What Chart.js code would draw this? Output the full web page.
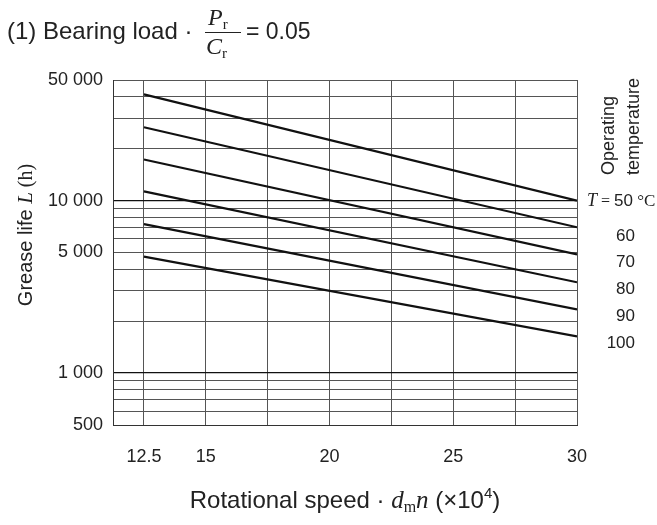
<!DOCTYPE html>
<html>
<head>
<meta charset="utf-8">
<script src="https://cdn.jsdelivr.net/npm/chart.js@4.4.1/dist/chart.umd.min.js"></script>
<style>
  html, body { margin: 0; padding: 0; background: #ffffff; }
  #wrap { width: 657px; height: 525px; }
</style>
</head>
<body>
<div id="wrap"><canvas id="c" width="657" height="525"></canvas></div>
<script>
// ---- data ----
const speedEnds = [12.5, 30];                 // d_m n (x10^4)
const temperatures = ['50', '60', '70', '80', '90', '100'];
const lifeT50  = [41300, 10000];
const lifeT60  = [26600, 7000];
const lifeT70  = [17300, 4880];
const lifeT80  = [11300, 3360];
const lifeT90  = [7300, 2340];
const lifeT100 = [4730, 1630];
const xTickValues = [12.5, 15, 17.5, 20, 22.5, 25, 27.5, 30];
const xTickLabels = ['12.5', '15', '', '20', '', '25', '', '30'];
const yTickValues = [500, 600, 700, 800, 900, 1000, 2000, 3000, 4000, 5000,
                     6000, 7000, 8000, 9000, 10000, 20000, 30000, 40000, 50000];
const yTickLabelValues = [500, 1000, 5000, 10000, 50000];
const yTickLabelTexts  = ['500', '1 000', '5 000', '10 000', '50 000'];

const lifeSeries = [lifeT50, lifeT60, lifeT70, lifeT80, lifeT90, lifeT100];

const SANS = '"Liberation Sans", Arial, sans-serif';
const SERIF = '"Liberation Serif", "Times New Roman", serif';

const datasets = lifeSeries.map((vals, i) => ({
  label: 'T = ' + temperatures[i] + ' °C',
  data: speedEnds.map((s, j) => ({ x: s, y: vals[j] })),
  borderColor: '#111111',
  borderWidth: 2.2,
  pointRadius: 0,
  fill: false,
  tension: 0
}));

function drawSegments(ctx, segs, x, y) {
  let cx = x;
  segs.forEach(s => {
    ctx.font = s.font;
    ctx.fillText(s.t, cx, y + (s.dy || 0));
    cx += ctx.measureText(s.t).width + (s.gap || 0);
  });
  return cx;
}
function segWidth(ctx, segs) {
  let w = 0;
  segs.forEach(s => { ctx.font = s.font; w += ctx.measureText(s.t).width + (s.gap || 0); });
  return w;
}

const textPlugin = {
  id: 'texts',
  afterDraw(chart) {
    const ctx = chart.ctx;
    const area = chart.chartArea;
    const ys = chart.scales.y;
    ctx.save();
    ctx.fillStyle = '#222222';
    ctx.textBaseline = 'alphabetic';
    ctx.textAlign = 'left';

    // ---- title with fraction ----
    ctx.font = '24px ' + SANS;
    ctx.fillText('(1) Bearing load \u00B7', 7, 39);
    drawSegments(ctx, [
      { t: 'P', font: 'italic 24px ' + SERIF },
      { t: 'r', font: '15px ' + SERIF, dy: 4 }
    ], 208, 25);
    ctx.strokeStyle = '#222222';
    ctx.lineWidth = 1.2;
    ctx.beginPath();
    ctx.moveTo(205, 32.5);
    ctx.lineTo(241, 32.5);
    ctx.stroke();
    drawSegments(ctx, [
      { t: 'C', font: 'italic 24px ' + SERIF },
      { t: 'r', font: '15px ' + SERIF, dy: 4 }
    ], 206, 54);
    ctx.font = '23px ' + SANS;
    ctx.fillText('= 0.05', 246, 39);

    // ---- x axis title ----
    const xt = [
      { t: 'Rotational speed \u00B7 ', font: '24px ' + SANS },
      { t: 'd', font: 'italic 25px ' + SERIF },
      { t: 'm', font: '16px ' + SERIF, dy: 4 },
      { t: 'n', font: 'italic 25px ' + SERIF },
      { t: ' (\u00D710', font: '24px ' + SANS },
      { t: '4', font: '15px ' + SANS, dy: -10 },
      { t: ')', font: '24px ' + SANS }
    ];
    const xw = segWidth(ctx, xt);
    drawSegments(ctx, xt, (area.left + area.right) / 2 - xw / 2, 508);

    // ---- y axis title (rotated) ----
    const yt = [
      { t: 'Grease life ', font: '20px ' + SANS },
      { t: 'L', font: 'italic 21px ' + SERIF },
      { t: ' (h)', font: '20px ' + SERIF }
    ];
    const yw = segWidth(ctx, yt);
    ctx.save();
    ctx.translate(32, 235);
    ctx.rotate(-Math.PI / 2);
    drawSegments(ctx, yt, -yw / 2, 0);
    ctx.restore();

    // ---- right side legend text ----
    ctx.save();
    ctx.font = '18px ' + SANS;
    ctx.translate(614, 175);
    ctx.rotate(-Math.PI / 2);
    ctx.fillText('Operating', 0, 0);
    ctx.restore();
    ctx.save();
    ctx.font = '18px ' + SANS;
    ctx.translate(639, 175);
    ctx.rotate(-Math.PI / 2);
    ctx.fillText('temperature', 0, 0);
    ctx.restore();

    const y50 = ys.getPixelForValue(lifeT50[1]);
    ctx.textBaseline = 'middle';
    drawSegments(ctx, [
      { t: 'T', font: 'italic 18px ' + SERIF },
      { t: ' = ', font: '16px ' + SERIF },
      { t: '50', font: '17px ' + SANS },
      { t: ' \u00B0C', font: '17px ' + SERIF }
    ], 587, y50 + 1);
    ctx.textAlign = 'right';
    ctx.font = '17px ' + SANS;
    for (let i = 1; i < temperatures.length; i++) {
      ctx.fillText(temperatures[i], 635, y50 + 35.5 + (i - 1) * 26.7);
    }
    ctx.restore();
  }
};

new Chart(document.getElementById('c'), {
  type: 'line',
  data: { datasets },
  options: {
    responsive: false,
    devicePixelRatio: 1,
    animation: false,
    layout: { padding: { top: 80, right: 80, left: 0, bottom: 0 } },
    plugins: {
      legend: { display: false },
      tooltip: { enabled: false },
      title: { display: false }
    },
    scales: {
      x: {
        type: 'linear',
        min: 11.25,
        max: 30,
        afterFit(scale) { scale.height = 100; },
        afterBuildTicks(scale) { scale.ticks = xTickValues.map(v => ({ value: v })); },
        ticks: {
          autoSkip: false,
          maxRotation: 0,
          padding: 21,
          color: '#222222',
          font: { family: 'Liberation Sans', size: 18 },
          callback(value) {
            const i = xTickValues.indexOf(value);
            return i >= 0 ? xTickLabels[i] : '';
          }
        },
        grid: { color: '#555555', lineWidth: 1, drawTicks: false },
        border: { color: '#333333', width: 1 }
      },
      y: {
        type: 'logarithmic',
        min: 500,
        max: 50000,
        afterFit(scale) { scale.width = 113; },
        afterBuildTicks(scale) { scale.ticks = yTickValues.map(v => ({ value: v })); },
        ticks: {
          autoSkip: false,
          padding: 10,
          color: '#222222',
          font: { family: 'Liberation Sans', size: 18 },
          callback(value) {
            const i = yTickLabelValues.indexOf(value);
            return i >= 0 ? yTickLabelTexts[i] : '';
          }
        },
        grid: {
          drawTicks: false,
          color(ctx) {
            const v = ctx.tick && ctx.tick.value;
            return (v === 1000 || v === 10000) ? '#111111' : '#555555';
          },
          lineWidth(ctx) {
            const v = ctx.tick && ctx.tick.value;
            return (v === 1000 || v === 10000) ? 1.3 : 1;
          }
        },
        border: { color: '#333333', width: 1 }
      }
    }
  },
  plugins: [textPlugin]
});
</script>
</body>
</html>
